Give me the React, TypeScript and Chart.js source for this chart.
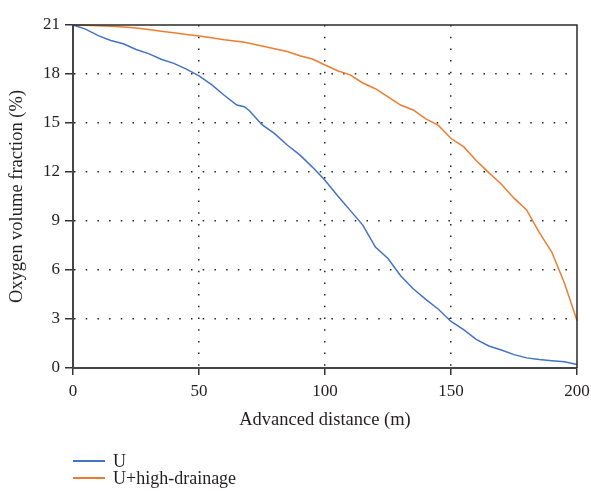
import React, { useEffect, useRef } from "react";
import { Chart, registerables } from "chart.js";

Chart.register(...registerables);

const distances = [0, 5, 10, 15, 20, 25, 30, 35, 40, 45, 50, 55, 60, 65, 68, 70, 75, 80, 85, 90, 95, 100, 105, 110, 115, 120, 125, 130, 135, 140, 145, 150, 155, 160, 165, 170, 175, 180, 185, 190, 195, 200];
const uValues = [21.0, 20.75, 20.35, 20.05, 19.85, 19.5, 19.25, 18.9, 18.65, 18.3, 17.88, 17.35, 16.7, 16.1, 16.0, 15.75, 14.9, 14.35, 13.65, 13.05, 12.3, 11.5, 10.55, 9.65, 8.75, 7.4, 6.7, 5.65, 4.85, 4.2, 3.6, 2.85, 2.35, 1.75, 1.35, 1.1, 0.82, 0.62, 0.52, 0.45, 0.38, 0.22];
const drainageValues = [21.0, 20.98, 20.95, 20.92, 20.88, 20.82, 20.72, 20.62, 20.52, 20.42, 20.33, 20.22, 20.1, 20.0, 19.94, 19.88, 19.72, 19.55, 19.38, 19.12, 18.92, 18.55, 18.2, 17.95, 17.45, 17.1, 16.6, 16.1, 15.8, 15.25, 14.85, 14.05, 13.55, 12.7, 11.96, 11.25, 10.4, 9.68, 8.3, 7.1, 5.2, 2.9];

const seriesLabels = ["U", "U+high-drainage"];
const seriesColors = ["#4472C4", "#ED7D31"];
const xTitle = "Advanced distance (m)";
const yTitle = "Oxygen volume fraction (%)";

const FONT = "'Liberation Serif', 'DejaVu Serif', serif";
const TEXT = "#231f20";

export default function App() {
  const ref = useRef<HTMLCanvasElement>(null);
  useEffect(() => {
    const canvas = ref.current!;
    const frame = {
      id: "frame",
      afterDatasetsDraw(chart: any) {
        const { ctx, chartArea } = chart;
        ctx.save();
        ctx.strokeStyle = "#2a2a2a";
        ctx.lineWidth = 1.5;
        ctx.beginPath();
        ctx.moveTo(chartArea.left, chartArea.top);
        ctx.lineTo(chartArea.right, chartArea.top);
        ctx.lineTo(chartArea.right, chartArea.bottom);
        ctx.stroke();
        ctx.restore();
      },
    };
    const gridColor = (max: number) => (c: any) =>
      c.tick && (c.tick.value === 0 || c.tick.value === max) ? "rgba(0,0,0,0)" : "#222";
    const chart = new Chart(canvas, {
      type: "line",
      data: {
        datasets: [uValues, drainageValues].map((vals, i) => ({
          label: seriesLabels[i],
          data: distances.map((d, j) => ({ x: d, y: vals[j] })),
          borderColor: seriesColors[i],
          backgroundColor: seriesColors[i],
          borderWidth: 1.5,
          pointRadius: 0,
          tension: 0,
          clip: 3,
        })),
      },
      options: {
        responsive: false,
        animation: false,
        layout: { padding: { top: 25, right: 14, left: 0, bottom: 64 } },
        plugins: { legend: { display: false }, tooltip: { enabled: false } },
        scales: {
          x: {
            type: "linear",
            min: 0,
            max: 200,
            ticks: { stepSize: 50, color: TEXT, font: { family: FONT, size: 17 }, padding: 6, maxRotation: 0 },
            grid: { color: gridColor(200), lineWidth: 1.5, tickLength: 7, tickColor: "#333", tickWidth: 1.5 },
            border: { display: true, color: "#444", width: 2, dash: [1.5, 10.2] },
            title: { display: true, text: xTitle, color: TEXT, font: { family: FONT, size: 18.5 }, padding: { top: 0, bottom: 0 } },
            afterFit: (s: any) => { s.height = 63; s.paddingLeft = 0; s.paddingRight = 0; },
          },
          y: {
            type: "linear",
            min: 0,
            max: 21,
            ticks: { stepSize: 3, color: TEXT, font: { family: FONT, size: 17 }, padding: 5 },
            grid: { color: gridColor(21), lineWidth: 1.5, tickLength: 8, tickColor: "#333", tickWidth: 1.5 },
            border: { display: true, color: "#444", width: 2, dash: [1.5, 10.2] },
            title: { display: true, text: yTitle, color: TEXT, font: { family: FONT, size: 18.5 }, padding: { top: 6, bottom: 0 } },
            afterFit: (s: any) => { s.width = 73; s.paddingTop = 0; s.paddingBottom = 0; },
          },
        },
      },
      plugins: [frame],
    });
    return () => chart.destroy();
  }, []);

  const legendRow = (i: number, top: number) => (
    <div key={i} style={{ position: "absolute", left: 73, top, height: 20, display: "flex", alignItems: "center" }}>
      <div style={{ width: 32, height: 1.5, background: seriesColors[i], marginRight: 8 }} />
      <span style={{ fontFamily: FONT, fontSize: 18, lineHeight: "20px", color: TEXT }}>{seriesLabels[i]}</span>
    </div>
  );

  return (
    <div style={{ position: "fixed", left: 0, top: 0, width: 591, height: 495, background: "#fff" }}>
      <canvas ref={ref} width={591} height={495} style={{ position: "absolute", left: 0, top: 0 }} />
      {legendRow(0, 451)}
      {legendRow(1, 468)}
    </div>
  );
}
